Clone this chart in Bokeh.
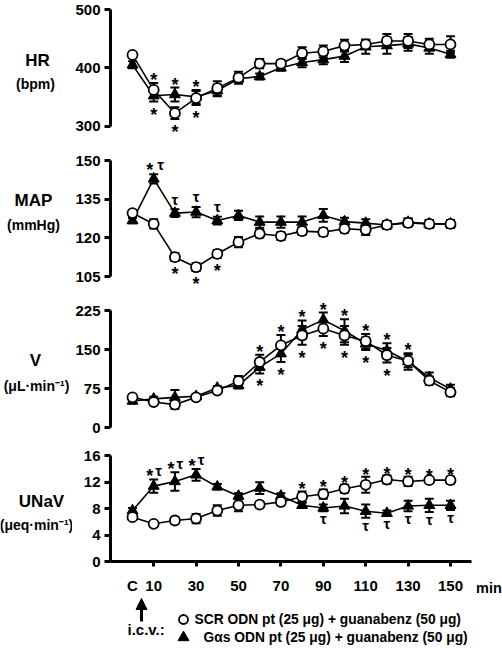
from bokeh.plotting import figure
from bokeh.models import (Range1d, FixedTicker, Whisker, TeeHead, Arrow,
                          NormalHead, ColumnDataSource)
from bokeh.layouts import column, row
from bokeh.core.properties import value
from bokeh.embed import file_html
from bokeh.resources import INLINE

# ---------------- data ----------------
minutes = [0, 10, 20, 30, 40, 50, 60, 70, 80, 90, 100, 110, 120, 130, 140, 150]
x_label_ticks = [0, 10, 30, 50, 70, 90, 110, 130, 150]
x_mark_ticks = [10, 30, 50, 70, 90, 110, 130, 150]
x_label_overrides = {0: "C"}

hr_scr = [422, 362, 322, 348, 365, 383, 407, 407, 425, 428, 438, 440, 446, 446, 440, 440]
hr_scr_err = [4, 12, 10, 12, 12, 10, 8, 6, 10, 10, 10, 8, 12, 12, 10, 14]
hr_gas = [405, 352, 354, 350, 361, 381, 385, 400, 409, 414, 420, 436, 438, 441, 434, 423]
hr_gas_err = [6, 10, 12, 12, 10, 8, 5, 5, 8, 8, 10, 12, 14, 12, 10, 6]

map_scr = [129.6, 125.4, 112.5, 108.6, 113.8, 118.3, 121.6, 120.7, 122.6, 122.2, 123.5, 123.1, 125.0, 125.8, 125.4, 125.4]
map_scr_err = [1.0, 1.8, 1.5, 1.5, 1.5, 2.0, 1.5, 1.5, 1.5, 1.5, 1.5, 2.0, 1.5, 1.5, 1.5, 1.5]
map_gas = [126.7, 142.9, 129.6, 130.0, 126.7, 128.7, 126.1, 126.1, 126.1, 128.7, 126.3, 125.7, 125.0, 126.1, 125.4, 125.4]
map_gas_err = [1.0, 1.8, 1.5, 2.0, 1.5, 1.8, 2.2, 2.2, 2.2, 2.5, 1.5, 1.5, 1.5, 1.5, 1.5, 1.5]

v_scr = [58, 49, 44, 58, 71, 89, 126, 158, 177, 190, 177, 166, 139, 128, 90, 68]
v_scr_err = [5, 4, 8, 4, 4, 10, 14, 20, 18, 14, 18, 14, 14, 12, 8, 8]
v_gas = [51, 55, 58, 60, 76, 81, 116, 142, 188, 207, 186, 161, 148, 127, 96, 74]
v_gas_err = [5, 4, 14, 4, 4, 6, 12, 16, 18, 14, 22, 12, 14, 16, 10, 8]

unav_scr = [6.7, 5.7, 6.2, 6.5, 7.7, 8.5, 8.6, 9.0, 9.8, 10.2, 11.0, 11.6, 12.4, 12.1, 12.3, 12.3]
unav_scr_err = [0.4, 0.3, 0.4, 0.7, 0.8, 0.9, 0.4, 0.4, 0.8, 0.7, 0.6, 1.2, 0.6, 0.7, 0.4, 0.5]
unav_gas = [7.7, 11.4, 12.1, 13.1, 11.3, 9.9, 11.1, 9.9, 8.5, 8.1, 8.4, 7.6, 7.3, 8.4, 8.5, 8.5]
unav_gas_err = [0.4, 1.0, 1.4, 0.9, 0.4, 0.4, 0.9, 0.4, 0.4, 0.5, 1.1, 1.0, 0.4, 0.8, 1.0, 0.7]

# significance markers (time points)
hr_star_above = [10, 20, 30]
hr_star_below = [10, 20, 30]
map_startau_gas = [10]
map_tau_gas = [20, 30, 40]
map_star_scr_below = [20, 30, 40]
v_star_above = [60, 70, 80, 90, 100, 110, 120, 130]
v_star_below = [60, 70, 80, 90, 100, 110, 120]
unav_startau_gas = [10, 20, 30]
unav_star_scr = [80, 90, 100, 110, 120, 130, 140, 150]
unav_tau_gas_below = [90, 110, 120, 130, 140, 150]

panel_titles = ["HR", "MAP", "V", "UNaV"]
panel_units = ["(bpm)", "(mmHg)", "(\u03bcL\u00b7min\u207b\u00b9)", "(\u03bceq\u00b7min\u207b\u00b9)"]
x_unit = "min"
icv_text = "i.c.v.:"
legend_scr = "SCR ODN pt (25 \u03bcg) + guanabenz (50 \u03bcg)"
legend_gas = "G\u03b1s ODN pt (25 \u03bcg) + guanabenz (50 \u03bcg)"

# ---------------- layout helpers ----------------
FONT = "Liberation Sans"
TOTAL_H = 650
LEFT_W = 72          # label strip on the left
RIGHT_W = 28         # strip on the right ("min")
MAIN_W = 502 - LEFT_W - RIGHT_W
BORDER_L = 110 - LEFT_W   # frame starts at page x = 110
PX_PER_MIN = 2.12
X_ZERO_PAGE = 132.0
X0 = (110 - X_ZERO_PAGE) / PX_PER_MIN
X1 = (502 - RIGHT_W - X_ZERO_PAGE) / PX_PER_MIN


def page_x(px):
    return (px - X_ZERO_PAGE) / PX_PER_MIN


def yrange(top, h, v1, p1, v2, p2):
    k = (p2 - p1) / (v1 - v2)
    b = v1 + (p1 - top) / k
    a = b - h / k
    return a, b


def style_text_axis(ax):
    ax.major_label_text_font = FONT
    ax.major_label_text_font_style = "bold"
    ax.major_label_text_font_size = "15px"
    ax.major_label_text_color = "black"


def make_panel(height, yr, bounds, ticks, bottom=0):
    p = figure(width=MAIN_W, height=height, x_range=Range1d(X0, X1),
               y_range=Range1d(yr[0], yr[1]), output_backend="svg",
               toolbar_location=None, min_border_left=BORDER_L,
               min_border_right=0, min_border_top=0,
               min_border_bottom=bottom,
               x_axis_location=("below" if bottom else None))
    p.outline_line_color = None
    p.grid.visible = False
    for ax in p.yaxis:
        ax.bounds = bounds
        ax.ticker = FixedTicker(ticks=ticks)
        ax.axis_line_width = 3
        ax.major_tick_line_width = 3
        ax.major_tick_out = 6
        ax.major_tick_in = 0
        ax.minor_tick_line_color = None
        ax.major_label_standoff = 4
        style_text_axis(ax)
    return p


def draw_series(p, ys, errs):
    src = ColumnDataSource(dict(x=minutes, y=ys,
                                lo=[y - e for y, e in zip(ys, errs)],
                                hi=[y + e for y, e in zip(ys, errs)]))
    p.line("x", "y", source=src, line_color="black", line_width=1.6)
    p.add_layout(Whisker(source=src, base="x", upper="hi", lower="lo",
                         dimension="height", line_width=2, line_color="black",
                         upper_head=TeeHead(size=9, line_width=2, line_color="black"),
                         lower_head=TeeHead(size=9, line_width=2, line_color="black")))


def draw_markers(p, ys, kind):
    if kind == "circle":
        p.scatter(minutes, ys, marker="circle", size=10, fill_color="white",
                  line_color="black", line_width=1.8)
    else:
        p.scatter(minutes, ys, marker="triangle", size=11, fill_color="black",
                  line_color="black", line_width=1)


def sig(p, xs, series, where, text, dx=0, d=8):
    yv = []
    for x in xs:
        i = minutes.index(x)
        if where == "above":
            yv.append(max(s[i] + e[i] for s, e in series))
        else:
            yv.append(min(s[i] - e[i] for s, e in series))
    if text == "*":
        size = "18px"
        off = -(d - 5) if where == "above" else d + 5
    else:
        size = "15px"
        off = -(d + 1) if where == "above" else d + 0.5
    p.text(x=xs, y=yv, text=[text] * len(xs), x_offset=dx, y_offset=off,
           text_align="center", text_baseline="middle",
           text_font=value(FONT), text_font_style="bold",
           text_font_size=size, text_color="black")


def strip(width, x0, x1, y0, y1, **kw):
    p = figure(width=width, height=int(round(y0 - y1)), x_range=Range1d(x0, x1),
               y_range=Range1d(y0, y1), output_backend="svg",
               toolbar_location=None, min_border_top=0, min_border_bottom=0,
               x_axis_location=None, y_axis_location=None, **kw)
    p.outline_line_color = None
    p.grid.visible = False
    return p


# ---------------- HR ----------------
p1 = make_panel(143, yrange(0, 143, 500, 9, 300, 125.5), (300, 500), [300, 400, 500])
draw_series(p1, hr_gas, hr_gas_err)
draw_series(p1, hr_scr, hr_scr_err)
draw_markers(p1, hr_gas, "triangle")
draw_markers(p1, hr_scr, "circle")
both = [(hr_scr, hr_scr_err), (hr_gas, hr_gas_err)]
sig(p1, hr_star_above, both, "above", "*")
sig(p1, hr_star_below, both, "below", "*")

# ---------------- MAP ----------------
p2 = make_panel(150, yrange(143, 150, 150, 160, 105, 276), (105, 150), [105, 120, 135, 150])
draw_series(p2, map_gas, map_gas_err)
draw_series(p2, map_scr, map_scr_err)
draw_markers(p2, map_gas, "triangle")
draw_markers(p2, map_scr, "circle")
gas = [(map_gas, map_gas_err)]
scr = [(map_scr, map_scr_err)]
sig(p2, map_startau_gas, gas, "above", "*", dx=-4, d=9)
sig(p2, map_startau_gas, gas, "above", "\u03c4", dx=7, d=9)
sig(p2, map_tau_gas, gas, "above", "\u03c4", d=9)
sig(p2, map_star_scr_below, scr, "below", "*")

# ---------------- V ----------------
p3 = make_panel(148, yrange(293, 148, 225, 310, 0, 427), (0, 225), [0, 75, 150, 225])
draw_series(p3, v_gas, v_gas_err)
draw_series(p3, v_scr, v_scr_err)
draw_markers(p3, v_gas, "triangle")
draw_markers(p3, v_scr, "circle")
both = [(v_scr, v_scr_err), (v_gas, v_gas_err)]
sig(p3, v_star_above, both, "above", "*")
sig(p3, v_star_below, both, "below", "*")

# ---------------- UNaV ----------------
a, b = yrange(441, 127, 16, 456, 0, 568)
p4 = make_panel(155, (0, b), (0, 16), [0, 4, 8, 12, 16], bottom=28)
xa = p4.xaxis[0]
xa.ticker = FixedTicker(ticks=x_label_ticks, minor_ticks=x_mark_ticks)
xa.major_label_overrides = x_label_overrides
xa.bounds = (X0, 160)
xa.axis_line_width = 3
xa.major_tick_line_color = None
xa.major_tick_out = 0
xa.major_tick_in = 0
xa.minor_tick_line_color = "black"
xa.minor_tick_line_width = 3
xa.minor_tick_out = 5
xa.minor_tick_in = 0
xa.major_label_standoff = 10
style_text_axis(xa)
draw_series(p4, unav_gas, unav_gas_err)
draw_series(p4, unav_scr, unav_scr_err)
draw_markers(p4, unav_gas, "triangle")
draw_markers(p4, unav_scr, "circle")
gas = [(unav_gas, unav_gas_err)]
scr = [(unav_scr, unav_scr_err)]
sig(p4, unav_startau_gas, gas, "above", "*", dx=-4, d=8)
sig(p4, unav_startau_gas, gas, "above", "\u03c4", dx=5, d=8)
sig(p4, unav_star_scr, scr, "above", "*", d=7)
sig(p4, unav_tau_gas_below, gas, "below", "\u03c4", d=7)

# ---------------- legend strip (below the x axis) ----------------
p5 = strip(MAIN_W, X0, X1, TOTAL_H, 596, min_border_left=BORDER_L, min_border_right=0)
p5.add_layout(Arrow(end=NormalHead(size=11, fill_color="black", line_color="black", line_width=1),
                    x_start=page_x(141), y_start=621, x_end=page_x(141), y_end=598,
                    line_width=3, line_color="black"))
p5.text(x=[page_x(127)], y=[629], text=[icv_text], text_align="left",
        text_baseline="middle", text_font=value(FONT), text_font_style="bold",
        text_font_size="15px", text_color="black")
p5.scatter([page_x(183)], [619], marker="circle", size=9, fill_color="white",
           line_color="black", line_width=1.8)
p5.scatter([page_x(183)], [637], marker="triangle", size=11, fill_color="black",
           line_color="black")
p5.text(x=[page_x(194), page_x(203)], y=[619, 637], text=[legend_scr, legend_gas],
        text_align="left", text_baseline="middle", text_font=value(FONT),
        text_font_style="bold", text_font_size="13.8px", text_color="black")

# ---------------- left strip: panel labels ----------------
pl = strip(LEFT_W, 0, LEFT_W, TOTAL_H, 0, min_border_left=0, min_border_right=0)
pl.text(x=[37, 33, 35, 41], y=[60, 200, 360, 501], text=panel_titles,
        text_align="center", text_baseline="middle", text_font=value(FONT),
        text_font_style="bold", text_font_size="17px", text_color="black")
pl.text(x=[35, 33, 36, 36], y=[83, 224, 385, 524], text=panel_units,
        text_align="center", text_baseline="middle", text_font=value(FONT),
        text_font_style="bold", text_font_size="14px", text_color="black")

# ---------------- right strip: x unit ----------------
pr = strip(RIGHT_W, 502 - RIGHT_W, 502, TOTAL_H, 0, min_border_left=0, min_border_right=0)
pr.text(x=[475.5], y=[587], text=[x_unit], text_align="left",
        text_baseline="middle", text_font=value(FONT), text_font_style="bold",
        text_font_size="14.5px", text_color="black")

layout = row(pl, column(p1, p2, p3, p4, p5, spacing=0), pr, spacing=0)
open("out.html", "w").write(file_html(layout, INLINE))
